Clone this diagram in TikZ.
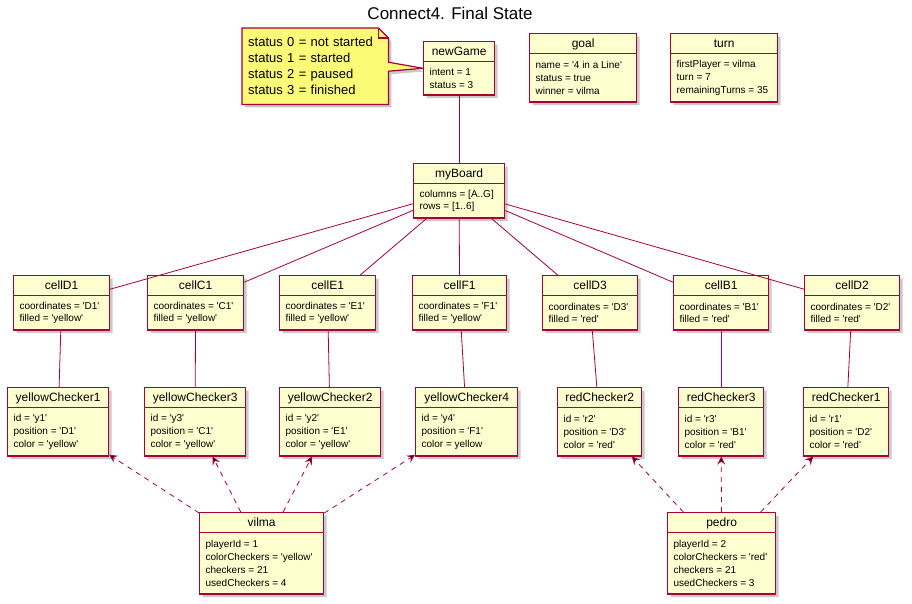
\documentclass[tikz,border=0pt]{standalone}
\usepackage{fontspec}
\setmainfont{Liberation Sans}
\usetikzlibrary{shapes.multipart,shadows,arrows.meta,backgrounds}
\tikzset{>={Stealth[length=8pt,width=8pt,inset=3pt]}}
\definecolor{umlred}{HTML}{A80036}
\definecolor{umlfill}{HTML}{FEFECE}
\definecolor{notefill}{HTML}{FBFB77}
\newcommand{\objstrut}{\rule[-3.5pt]{0pt}{15pt}}
\newcommand{\attrs}[3]{\parbox[c][#2pt][c]{#1pt}{\fontsize{10}{12.8}\selectfont\raggedright #3}}
\newcommand{\qt}[1]{\textquotesingle#1\textquotesingle}

\begin{document}
\begin{tikzpicture}[x=1pt,y=-1pt]
\tikzset{every node/.style={font=\fontsize{12}{14}\selectfont},
obj/.style={rectangle split, rectangle split parts=2, draw=umlred, fill=umlfill, line width=1.2pt, inner xsep=6pt, inner ysep=2pt, anchor=north west, execute at begin node=\objstrut, drop shadow={shadow xshift=3pt, shadow yshift=-3pt, opacity=0.3, fill=black!70}},
notetext/.style={anchor=north west, minimum width=146pt, minimum height=76pt, text width=134pt, inner sep=6pt, align=left, font=\fontsize{13}{16}\selectfont},
notebox/.style={draw=umlred, fill=notefill, line width=1.2pt, line join=miter},
link/.style={draw=umlred, line width=0.8pt},
uses/.style={link, dash pattern=on 5pt off 5pt, ->}}
\useasboundingbox (0,0) rectangle (912,603);
\node[font=\fontsize{17}{20}\selectfont] (title) at (450,13) {Connect4. Final State};
\node[obj] (newGame) at (423,41) {newGame\nodepart{two}\attrs{59}{28}{intent = 1\\status = 3}};
\node[obj] (goal) at (529,33) {goal\nodepart{two}\attrs{95}{43}{name = \qt{4 in a Line}\\status = true\\winner = vilma}};
\node[obj] (turn) at (670,33) {turn\nodepart{two}\attrs{95}{43}{firstPlayer = vilma\\turn = 7\\remainingTurns = 35}};
\node[obj] (myBoard) at (413,163) {myBoard\nodepart{two}\attrs{79}{29}{columns = [A..G]\\rows = [1..6]}};
% cells
\node[obj] (cellD1) at (13,275) {cellD1\nodepart{two}\attrs{84}{29}{coordinates = \qt{D1}\\filled = \qt{yellow}}};
\node[obj] (cellC1) at (147,275) {cellC1\nodepart{two}\attrs{84}{29}{coordinates = \qt{C1}\\filled = \qt{yellow}}};
\node[obj] (cellE1) at (279,275) {cellE1\nodepart{two}\attrs{84}{29}{coordinates = \qt{E1}\\filled = \qt{yellow}}};
\node[obj] (cellF1) at (412,275) {cellF1\nodepart{two}\attrs{82}{29}{coordinates = \qt{F1}\\filled = \qt{yellow}}};
\node[obj] (cellD3) at (542,275) {cellD3\nodepart{two}\attrs{83}{29}{coordinates = \qt{D3}\\filled = \qt{red}}};
\node[obj] (cellB1) at (673,275) {cellB1\nodepart{two}\attrs{83}{29}{coordinates = \qt{B1}\\filled = \qt{red}}};
\node[obj] (cellD2) at (804,275) {cellD2\nodepart{two}\attrs{83}{29}{coordinates = \qt{D2}\\filled = \qt{red}}};
% checkers
\node[obj] (yellowChecker1) at (7,387) {yellowChecker1\nodepart{two}\attrs{89}{43}{id = \qt{y1}\\position = \qt{D1}\\color = \qt{yellow}}};
\node[obj] (yellowChecker3) at (144,387) {yellowChecker3\nodepart{two}\attrs{89}{43}{id = \qt{y3}\\position = \qt{C1}\\color = \qt{yellow}}};
\node[obj] (yellowChecker2) at (279,387) {yellowChecker2\nodepart{two}\attrs{89}{43}{id = \qt{y2}\\position = \qt{E1}\\color = \qt{yellow}}};
\node[obj] (yellowChecker4) at (415,387) {yellowChecker4\nodepart{two}\attrs{90}{43}{id = \qt{y4}\\position = \qt{F1}\\color = yellow}};
\node[obj] (redChecker2) at (557,387) {redChecker2\nodepart{two}\attrs{72}{43}{id = \qt{r2}\\position = \qt{D3}\\color = \qt{red}}};
\node[obj] (redChecker3) at (678,387) {redChecker3\nodepart{two}\attrs{73}{43}{id = \qt{r3}\\position = \qt{B1}\\color = \qt{red}}};
\node[obj] (redChecker1) at (803,387) {redChecker1\nodepart{two}\attrs{73}{43}{id = \qt{r1}\\position = \qt{D2}\\color = \qt{red}}};
% players
\node[obj] (vilma) at (199,512) {vilma\nodepart{two}\attrs{112}{56}{playerId = 1\\colorCheckers = \qt{yellow}\\checkers = 21\\usedCheckers = 4}};
\node[obj] (pedro) at (667,512) {pedro\nodepart{two}\attrs{96}{56}{playerId = 2\\colorCheckers = \qt{red}\\checkers = 21\\usedCheckers = 3}};
% note
\node[notetext] (note) at (242,28) {status 0 = not started\\status 1 = started\\status 2 = paused\\status 3 = finished};
\begin{scope}[on background layer]
\draw[notebox, drop shadow={shadow xshift=3pt, shadow yshift=-3pt, opacity=0.3, fill=black!70}] (note.north west) -- ([xshift=-10pt]note.north east) -- ([yshift=-10pt]note.north east) -- ([yshift=4pt]note.east) -- (newGame.west) -- ([yshift=-5pt]note.east) -- (note.south east) -- (note.south west) -- cycle;
\draw[notebox, fill=none] ([xshift=-10pt]note.north east) |- ([yshift=-10pt]note.north east);
\end{scope}
\path[link] (newGame) edge (myBoard);
\path[link] (myBoard) edge (cellD1) edge (cellC1) edge (cellE1) edge (cellF1) edge (cellD3) edge (cellB1) edge (cellD2);
\foreach \cell/\chk in {cellD1/yellowChecker1, cellC1/yellowChecker3, cellE1/yellowChecker2, cellF1/yellowChecker4, cellD3/redChecker2, cellB1/redChecker3, cellD2/redChecker1}
  \path[link] (\cell) edge (\chk);
\path[uses] (vilma) edge (yellowChecker1) edge (yellowChecker3) edge (yellowChecker2) edge (yellowChecker4);
\path[uses] (pedro) edge (redChecker2) edge (redChecker3) edge (redChecker1);
\end{tikzpicture}
\end{document}
